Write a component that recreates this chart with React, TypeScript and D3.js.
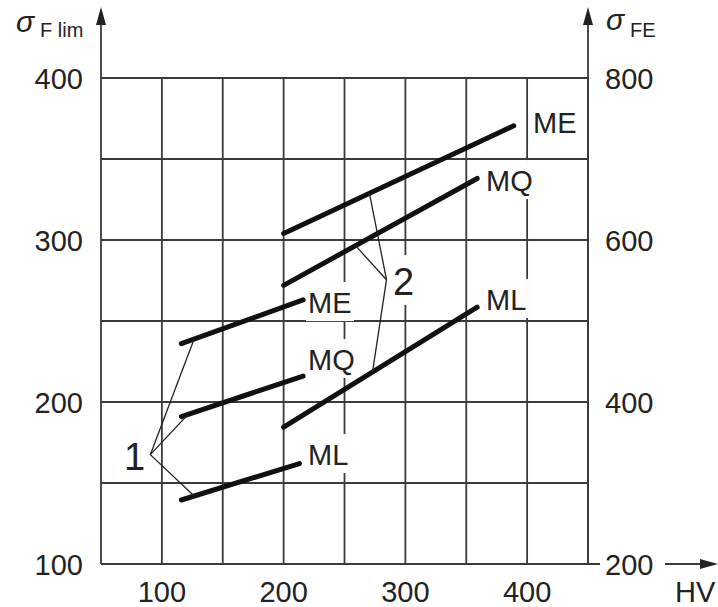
import React from "react";
import * as d3 from "d3";

// ---- data (HV, sigma_F lim) ----
const xTickLabels = [100, 200, 300, 400];
const leftTickLabels = [100, 200, 300, 400];
const rightTickLabels = [200, 400, 600, 800];

// thick lines: [HV start, sigma start, HV end, sigma end]
const lineNames = ["ME", "MQ", "ML", "ME", "MQ", "ML"];
const lineStartHV = [200, 200, 200, 116, 116, 116];
const lineStartS = [304, 272, 184.5, 236, 191, 139.5];
const lineEndHV = [389, 359, 359, 216, 216, 213];
const lineEndS = [370.5, 338, 258.5, 263, 216, 162];
// label anchor (HV, sigma) for each line's label (text start, baseline)
const labelHV = [404.8, 366.2, 366.2, 220, 220, 220];
const labelS = [366, 330.2, 256.8, 254.9, 219.8, 161.1];

// annotation leaders: hub point and target HV on lines
const hub1 = [90.5, 167.5];
const hub1Targets = [[3, 126.5], [4, 121.5], [5, 126.5]];
const hub2 = [284.5, 275.5];
const hub2Targets = [[0, 270.5], [1, 259], [2, 273]];

const W = 718, H = 607;
const x0 = 101, x1 = 588, yTop = 78, yBot = 564;

export default function App() {
  const x = d3.scaleLinear().domain([50, 450]).range([x0, x1]);
  const yL = d3.scaleLinear().domain([100, 400]).range([yBot, yTop]);
  const yR = d3.scaleLinear().domain([200, 800]).range([yBot, yTop]);
  const gridX = d3.range(100, 451, 50);
  const gridY = d3.range(150, 401, 50);
  const grid = "#3a3a3a";
  const font = "'Liberation Sans', Arial, sans-serif";
  const fs = 29;

  const onLine = (i: number, hv: number) => {
    const t = (hv - lineStartHV[i]) / (lineEndHV[i] - lineStartHV[i]);
    return lineStartS[i] + t * (lineEndS[i] - lineStartS[i]);
  };

  return (
    <svg width={W} height={H} style={{ position: "absolute", left: 0, top: 0, background: "#fff" }}>
      <rect width={W} height={H} fill="#fff" />
      {/* grid */}
      {gridX.map((v) => (
        <line key={"gx" + v} x1={x(v)} x2={x(v)} y1={yTop} y2={yBot} stroke={grid} strokeWidth={1.8} />
      ))}
      {gridY.map((v) => (
        <line key={"gy" + v} x1={x0} x2={x1} y1={yL(v)} y2={yL(v)} stroke={grid} strokeWidth={1.8} />
      ))}
      {/* axes */}
      <line x1={x0} x2={x0} y1={yBot} y2={20} stroke={grid} strokeWidth={1.8} />
      <line x1={x1} x2={x1} y1={yBot} y2={20} stroke={grid} strokeWidth={1.8} />
      <line x1={x0} x2={600} y1={yBot} y2={yBot} stroke={grid} strokeWidth={1.8} />
      <path d={`M${x0},7 L${x0 - 5},25 L${x0 + 5},25 Z`} fill="#222" />
      <path d={`M${x1},7 L${x1 - 5},25 L${x1 + 5},25 Z`} fill="#222" />
      <line x1={665} x2={705} y1={yBot} y2={yBot} stroke={grid} strokeWidth={1.8} />
      <path d={`M718,${yBot} L700,${yBot - 5} L700,${yBot + 5} Z`} fill="#222" />

      {/* tick labels */}
      <g fontFamily={font} fontSize={fs} fill="#222">
        {leftTickLabels.map((v) => (
          <text key={"l" + v} x={83} y={yL(v) + 11} textAnchor="end">{v}</text>
        ))}
        {rightTickLabels.map((v) => (
          <text key={"r" + v} x={605} y={yR(v) + 11} textAnchor="start">{v}</text>
        ))}
        {xTickLabels.map((v) => (
          <text key={"b" + v} x={x(v)} y={602} textAnchor="middle">{v}</text>
        ))}
        <text x={675} y={602}>HV</text>
      </g>

      {/* axis titles */}
      <g fontFamily={font} fill="#222">
        <text x={16} y={32} fontSize={30} fontStyle="italic">σ</text>
        <text x={40} y={37} fontSize={20}>F lim</text>
        <text x={606} y={30} fontSize={30} fontStyle="italic">σ</text>
        <text x={630} y={37} fontSize={20}>FE</text>
      </g>

      {/* line labels with white background */}
      {lineNames.map((n, i) => {
        const tx = x(labelHV[i]);
        const ty = yL(labelS[i]);
        const w = n === "ME" ? 44 : n === "MQ" ? 48 : 40;
        return (
          <g key={"lab" + i}>
            <rect x={tx - 2} y={ty - 31} width={w + 4} height={39} fill="#fff" />
            <text x={tx} y={ty} fontFamily={font} fontSize={fs} fill="#222">{n}</text>
          </g>
        );
      })}
      {/* "2" background */}
      <rect x={392} y={255} width={26} height={50} fill="#fff" />

      {/* thick lines */}
      {lineNames.map((n, i) => (
        <line
          key={"ln" + i}
          x1={x(lineStartHV[i])}
          y1={yL(lineStartS[i])}
          x2={x(lineEndHV[i])}
          y2={yL(lineEndS[i])}
          stroke="#111"
          strokeWidth={5}
          strokeLinecap="round"
        />
      ))}

      {/* leaders */}
      {hub1Targets.map(([i, hv], k) => (
        <line key={"h1" + k} x1={x(hub1[0])} y1={yL(hub1[1])} x2={x(hv)} y2={yL(onLine(i, hv))} stroke="#222" strokeWidth={1.3} />
      ))}
      {hub2Targets.map(([i, hv], k) => (
        <line key={"h2" + k} x1={x(hub2[0])} y1={yL(hub2[1])} x2={x(hv)} y2={yL(onLine(i, hv))} stroke="#222" strokeWidth={1.3} />
      ))}
      <text x={124} y={470} fontFamily={font} fontSize={38} fill="#222">1</text>
      <text x={393} y={295} fontFamily={font} fontSize={38} fill="#222">2</text>
    </svg>
  );
}
